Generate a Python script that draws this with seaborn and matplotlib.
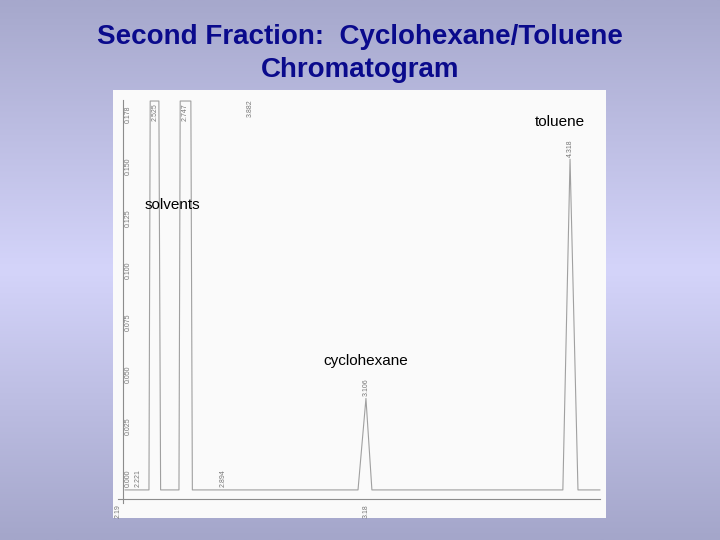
import matplotlib
matplotlib.use('Agg')
import numpy as np
import matplotlib.pyplot as plt
import seaborn as sns
from matplotlib.colors import LinearSegmentedColormap

# chromatogram trace: retention time (min) vs signal
trace_time = [2.218, 2.315, 2.320, 2.355, 2.362, 2.436, 2.441, 2.484, 2.490,
              3.158, 3.190, 3.214, 3.984, 4.013, 4.045, 4.134]
trace_signal = [0.000, 0.000, 0.187, 0.187, 0.000, 0.000, 0.187, 0.187, 0.000,
                0.000, 0.044, 0.000, 0.000, 0.159, 0.000, 0.000]

# y scale labels printed by the integrator
ytick_values = [0.000, 0.025, 0.050, 0.075, 0.100, 0.125, 0.150, 0.175]
ytick_labels = ['0.000', '0.025', '0.050', '0.075', '0.100', '0.125', '0.150', '0.178']

# x scale labels
xtick_values = [2.19, 3.19]
xtick_labels = ['2.19', '3.18']

# retention time labels printed above the peaks
peak_times = [2.338, 2.462, 2.722, 3.190, 4.013]
peak_tops = [0.186, 0.186, 0.188, 0.045, 0.160]
peak_labels = ['2.525', '2.747', '3.882', '3.106', '4.318']

# small labels near the baseline
base_times = [2.270, 2.613]
base_labels = ['2.221', '2.894']

# compound names written on the slide
compound_names = ['toluene', 'solvents', 'cyclohexane']
compound_times = [3.972, 2.408, 3.190]
compound_signal = [0.177, 0.137, 0.062]

sns.set_theme(style='white')
plt.rcParams['font.family'] = ['Liberation Sans', 'DejaVu Sans']

fig = plt.figure(figsize=(7.2, 5.4), dpi=100)

# slide background gradient
bg = fig.add_axes([0, 0, 1, 1], zorder=0)
cmap = LinearSegmentedColormap.from_list(
    'slide', [(0.0, '#A4A6CA'), (0.5, '#D4D4FA'), (1.0, '#A6A8CC')])
bg.imshow(np.linspace(0, 1, 256).reshape(-1, 1), aspect='auto', cmap=cmap,
          origin='lower', extent=[0, 1, 0, 1])
bg.set_axis_off()

fig.text(0.5, 1 - 37 / 540, 'Second Fraction:  Cyclohexane/Toluene',
         ha='center', va='center', fontsize=20, fontweight='bold', color='#0A0A8C')
fig.text(0.5, 1 - 70 / 540, 'Chromatogram',
         ha='center', va='center', fontsize=20, fontweight='bold', color='#0A0A8C')

# the chromatogram "picture"
ax = fig.add_axes([113 / 720, 22 / 540, 493 / 720, 428 / 540], zorder=1)
ax.set_facecolor('#FAFAFA')

sns.lineplot(x=trace_time, y=trace_signal, ax=ax, estimator=None, sort=False,
             color='#A0A0A0', linewidth=0.8)

ax.set_xlim(2.170, 4.158)
ax.set_ylim(-0.0135, 0.1923)

for s in ['top', 'right']:
    ax.spines[s].set_visible(False)
ax.spines['left'].set_position(('data', 2.2105))
ax.spines['left'].set_bounds(-0.0065, 0.1875)
ax.spines['bottom'].set_position(('data', -0.0043))
ax.spines['bottom'].set_bounds(2.190, 4.134)
for s in ['left', 'bottom']:
    ax.spines[s].set_color('#8C8C8C')
    ax.spines[s].set_linewidth(0.8)

ax.set_yticks([])
ax.set_xticks(xtick_values)
ax.set_xticklabels(xtick_labels, rotation=90, fontsize=5, color='#777777')
ax.tick_params(axis='x', direction='out', length=3, width=0.6, color='#8C8C8C', pad=1)

for v, lab in zip(ytick_values, ytick_labels):
    ax.text(2.216, v + 0.0015, lab, rotation=90, ha='left', va='bottom',
            fontsize=5, color='#777777')

for t, top, lab in zip(peak_times, peak_tops, peak_labels):
    ax.text(t, top, lab, rotation=90, ha='center', va='top' if top > 0.18 else 'bottom',
            fontsize=5, color='#777777')

for t, lab in zip(base_times, base_labels):
    ax.text(t, 0.0015, lab, rotation=90, ha='center', va='bottom',
            fontsize=5, color='#777777')

for name, t, v in zip(compound_names, compound_times, compound_signal):
    ax.text(t, v, name, ha='center', va='center', fontsize=11, color='black')

ax.set_xlabel('')
ax.set_ylabel('')

fig.savefig('out.png', dpi=100)
